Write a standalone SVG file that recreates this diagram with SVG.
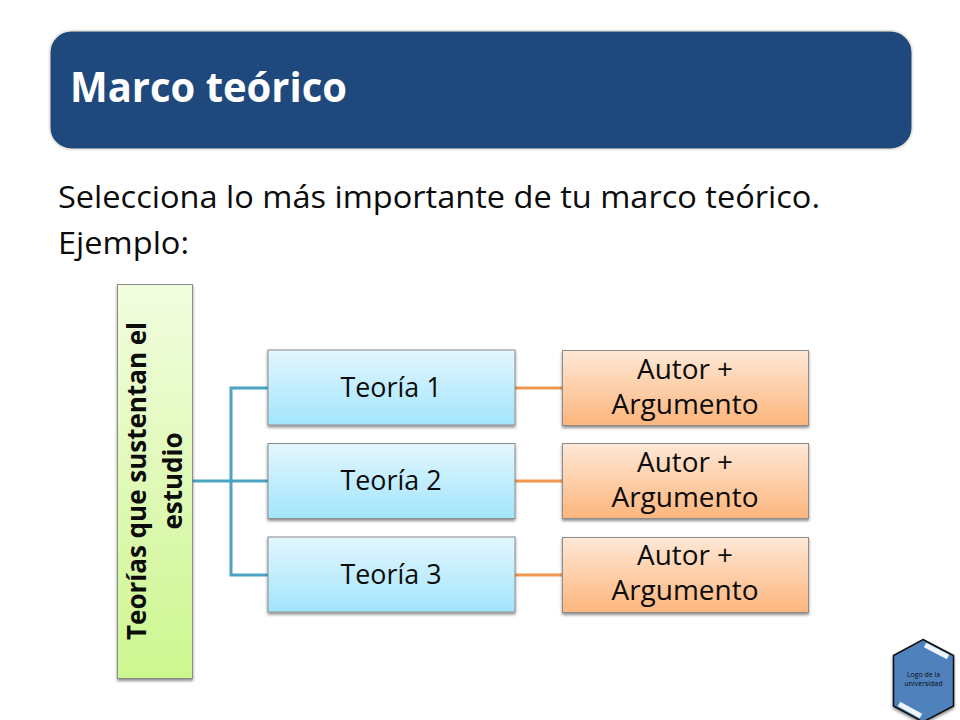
<svg xmlns="http://www.w3.org/2000/svg" width="960" height="720" viewBox="0 0 960 720">
<style>
text{font-family:"Open Sans","Noto Sans","Liberation Sans",sans-serif;fill:#0c0c0c}
.n{font-size:27px;text-anchor:middle}
.b{stroke:#8c8c8c;stroke-width:1}
.t{fill:url(#blue)}
.o{fill:url(#orange)}
.cb{fill:none;stroke:#4ba3c4;stroke-width:3}
.co{fill:none;stroke:#f0974f;stroke-width:3}
</style>
<defs>
<linearGradient id="blue" x1="0" y1="0" x2="0" y2="1"><stop offset="0" stop-color="#e3f6fe"/><stop offset="1" stop-color="#a2e5fd"/></linearGradient>
<linearGradient id="orange" x1="0" y1="0" x2="0" y2="1"><stop offset="0" stop-color="#fee8d6"/><stop offset="1" stop-color="#fdb57c"/></linearGradient>
<linearGradient id="green" x1="0" y1="0" x2="0" y2="1"><stop offset="0" stop-color="#f2fde0"/><stop offset="1" stop-color="#cdf68f"/></linearGradient>
<filter id="sh" x="-10%" y="-10%" width="120%" height="120%"><feDropShadow dx="0" dy="2" stdDeviation="1.500" flood-color="#000" flood-opacity="0.45"/></filter>
</defs>
<rect width="960" height="720" fill="#fff"/>
<g id="title">
<rect x="49.500" y="30.500" width="863" height="119" rx="22" fill="#1f497d" stroke="#ece9df" stroke-width="2"/>
<text x="70" y="102" font-size="42" font-weight="700" textLength="277" lengthAdjust="spacingAndGlyphs" style="fill:#fff">Marco teórico</text>
</g>
<g id="body">
<text x="58" y="208" font-size="31" textLength="762" lengthAdjust="spacingAndGlyphs">Selecciona lo más importante de tu marco teórico.</text>
<text x="58" y="254" font-size="31" textLength="131" lengthAdjust="spacingAndGlyphs">Ejemplo:</text>
</g>
<g id="connectors">
<path class="cb" d="M193 481H268M231 481V388H268M231 481V575H268"/>
<path class="co" d="M515 388H562M515 481H562M515 575H562"/>
</g>
<g id="root">
<rect class="b" x="117.500" y="284.500" width="75" height="394" fill="url(#green)" filter="url(#sh)"/>
<g transform="translate(155 481) rotate(-90)">
<text x="0" y="-9" font-size="27" font-weight="700" text-anchor="middle" textLength="318" lengthAdjust="spacingAndGlyphs">Teorías que sustentan el</text>
<text x="0" y="27" font-size="27" font-weight="700" text-anchor="middle" textLength="97" lengthAdjust="spacingAndGlyphs">estudio</text>
</g>
</g>
<g id="teoria1"><rect class="b t" x="268" y="350" width="247" height="75" filter="url(#sh)"/><text class="n" x="391" y="397" textLength="101" lengthAdjust="spacingAndGlyphs">Teoría 1</text></g>
<g id="teoria2"><rect class="b t" x="268" y="443.500" width="247" height="75" filter="url(#sh)"/><text class="n" x="391" y="490" textLength="101" lengthAdjust="spacingAndGlyphs">Teoría 2</text></g>
<g id="teoria3"><rect class="b t" x="268" y="537" width="247" height="75" filter="url(#sh)"/><text class="n" x="391" y="584" textLength="101" lengthAdjust="spacingAndGlyphs">Teoría 3</text></g>
<g id="autor1"><rect class="b o" x="562.500" y="350.500" width="246" height="75" filter="url(#sh)"/><text class="n" x="685" y="379" textLength="96" lengthAdjust="spacingAndGlyphs">Autor +</text><text class="n" x="685" y="414" textLength="147" lengthAdjust="spacingAndGlyphs">Argumento</text></g>
<g id="autor2"><rect class="b o" x="562.500" y="443.500" width="246" height="75" filter="url(#sh)"/><text class="n" x="685" y="472" textLength="96" lengthAdjust="spacingAndGlyphs">Autor +</text><text class="n" x="685" y="507" textLength="147" lengthAdjust="spacingAndGlyphs">Argumento</text></g>
<g id="autor3"><rect class="b o" x="562.500" y="537.500" width="246" height="75" filter="url(#sh)"/><text class="n" x="685" y="565" textLength="96" lengthAdjust="spacingAndGlyphs">Autor +</text><text class="n" x="685" y="600" textLength="147" lengthAdjust="spacingAndGlyphs">Argumento</text></g>
<g id="logo">
<polygon points="923,639.500 953.500,655.500 953.500,706 923,722 893.500,706 893.500,655.500" fill="#4f81bd" stroke="#111" stroke-width="1.500" filter="url(#sh)"/>
<path d="M925 645L948 657M899 704L921 716" stroke="#eef4fc" stroke-width="5" fill="none"/>
<text x="923.500" y="677" font-size="7.500" text-anchor="middle" textLength="33" lengthAdjust="spacingAndGlyphs">Logo de la</text>
<text x="923.500" y="686" font-size="7.500" text-anchor="middle" textLength="38" lengthAdjust="spacingAndGlyphs">universidad</text>
</g>
</svg>
